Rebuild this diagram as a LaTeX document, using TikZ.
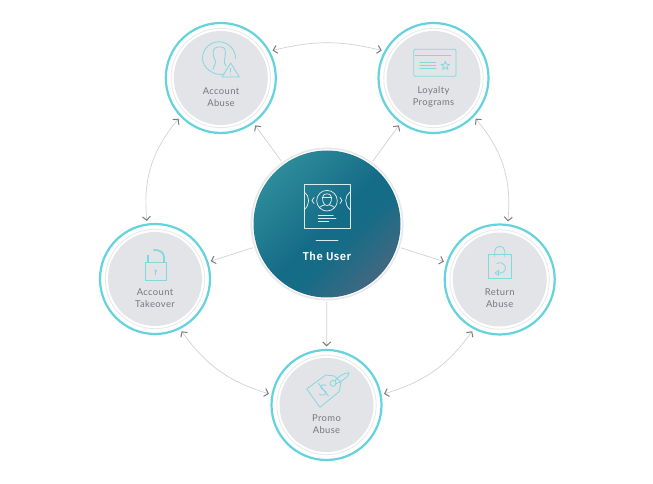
\documentclass[tikz,border=0pt]{standalone}
\usepackage{fontspec}
\setmainfont{Lato}
\newfontfamily\labelfont[LetterSpace=4]{Lato}
\newfontfamily\userfont[LetterSpace=4,UprightFont=* Medium]{Fira Sans}
\usetikzlibrary{arrows.meta,bending}
\definecolor{ringteal}{HTML}{64D3DD}
\definecolor{iconteal}{HTML}{82D8E0}
\definecolor{discgrey}{HTML}{E3E4E8}
\definecolor{thinring}{HTML}{E8E8EB}
\definecolor{textgrey}{HTML}{77777D}
\definecolor{linkgrey}{HTML}{D2D2D5}
\definecolor{tipgrey}{HTML}{7C7C80}
\definecolor{uA}{HTML}{3FA3A9}
\definecolor{uB}{HTML}{156C87}
\definecolor{uC}{HTML}{75637A}
\pgfdeclareverticalshading{usergrad}{100bp}{color(0bp)=(uC); color(5bp)=(uC); color(42bp)=(uB); color(50bp)=(uB); color(94bp)=(uA); color(100bp)=(uA)}
\tikzset{
  x=1pt,y=1pt,
  hub/.style={circle,minimum size=156pt,inner sep=0pt,outer sep=0pt},
  spoke/.style={circle,minimum size=117.2pt,inner sep=0pt,outer sep=0pt},
  outerring/.style={draw=ringteal,line width=2.2pt},
  innerring/.style={draw=thinring,line width=.8pt},
  disc/.style={fill=discgrey},
  link/.style={draw=linkgrey,line width=.7pt,
    {Straight Barb[color=tipgrey,length=3.8pt,width=8pt,line width=1pt]}-{Straight Barb[color=tipgrey,length=3.8pt,width=8pt,line width=1pt]}},
  spokelink/.style={draw=linkgrey,line width=.7pt,
    -{Straight Barb[color=tipgrey,length=3.8pt,width=8pt,line width=1pt]}},
  caption/.style={font=\labelfont\fontsize{9.4pt}{11.7pt}\selectfont,text=textgrey,align=center,inner sep=0pt},
  icon/.style={draw=iconteal,line width=.8pt,line join=round,line cap=round},
  usericon/.style={draw=white,draw opacity=.85,line width=.75pt,line join=round,line cap=round},
}
\begin{document}
\begin{tikzpicture}
\useasboundingbox (0,0) rectangle (653,484);
\fill[white] (0,0) rectangle (653,484);
\node[hub] (user) at (327,260) {};
\node[spoke] (aa) at (220.8,406) {};
\node[spoke] (lp) at (433.5,406) {};
\node[spoke] (at) at (155,205) {};
\node[spoke] (ra) at (499.7,204.5) {};
\node[spoke] (pa) at (326.5,79) {};
% connectors
\draw[spokelink] (user) -- (aa);
\draw[spokelink] (user) -- (lp);
\draw[spokelink] (user) -- (at);
\draw[spokelink] (user) -- (ra);
\draw[spokelink] (user) -- (pa);
\draw[link] (aa.28) to[bend left=14] (lp.152);
\draw[link] (aa.224) to[bend right=23] (at.98);
\draw[link] (lp.316) to[bend left=23] (ra.82);
\draw[link] (at.297) to[bend right=19] (pa.169);
\draw[link] (ra.242) to[bend left=19] (pa.11);
% rings
\foreach \n in {aa,lp,at,ra,pa}{
  \path[disc] (\n) circle (47);
  \path[innerring] (\n) circle (49.7);
  \path[outerring] (\n) circle (55);
}
% hub
\draw[draw=thinring,line width=1.6pt] (user) circle (75.6);
\shade[shading=usergrad,shading angle=45] (user) circle (73.5);
% labels
\node[caption] (aalabel) at (221,386.6) {Account\\Abuse};
\node[caption] (lplabel) at (433.5,387.2) {Loyalty\\Programs};
\node[caption] (atlabel) at (155,186) {Account\\Takeover};
\node[caption] (ralabel) at (499.7,185.8) {Return\\Abuse};
\node[caption] (palabel) at (326.5,60) {Promo\\Abuse};
\node[font=\userfont\fontsize{11.4pt}{13pt}\selectfont,text=white,inner sep=0pt] (userlabel) at (327,227.3) {The User};
% icons, in pixel coordinates of the reference
\begin{scope}[shift={(0,484)},yscale=-1]
  % Account Abuse
  \draw[icon] (224.5,74) .. controls (214,76.5) and (202.5,68) .. (202.5,58.3) .. controls (202.5,49) and (210,41.8) .. (219,41.8) .. controls (228,41.8) and (235.5,49) .. (235.5,58.5);
  \draw[icon] (213,69.5) .. controls (214,65) and (216.5,64) .. (215.5,61) .. controls (213.5,58) and (212.5,53) .. (213.5,50) .. controls (215,46.5) and (221,46) .. (224,48) .. controls (226.5,50) and (225,56) .. (224.5,60) .. controls (224,62) and (224,64) .. (226,66);
  \draw[icon] (230.7,63) -- (239.3,77) -- (222,77) -- cycle;
  \draw[icon] (230.7,68.3) -- (230.7,72);
  \fill[iconteal] (230.7,74.3) circle (.5);
  % Loyalty Programs
  \draw[icon,rounded corners=1.2pt] (413.7,49.3) rectangle (456,76.3);
  \draw[icon] (415,55.3) -- (450.7,55.3);
  \draw[icon] (419.7,62.7) -- (436,62.7) (419.7,65.7) -- (436,65.7) (419.7,68.5) -- (436,68.5);
  \draw[icon] (445.3,61.2) -- (446.4,64.2) -- (449.6,64.3) -- (447.1,66.3) -- (448,69.4) -- (445.3,67.6) -- (442.6,69.4) -- (443.5,66.3) -- (441,64.3) -- (444.2,64.2) -- cycle;
  % Account Takeover
  \draw[icon] (145.3,262.7) rectangle (166,280.7);
  \draw[icon,line width=1.7pt,line cap=butt] (147.7,262.7) -- (147.7,255.5);
  \draw[icon,line width=1.7pt,line cap=butt] (164,262.7) -- (164,257) .. controls (164,252) and (159,249.5) .. (153.3,250);
  \fill[iconteal] (155.7,270.8) circle (1.3);
  \draw[icon,line width=1.3pt,line cap=butt] (155.7,270.8) -- (155.7,275);
  % Return Abuse
  \draw[icon] (488.3,254) rectangle (511,278.7);
  \draw[icon] (494.7,256.5) -- (494.7,251) .. controls (494.7,244.8) and (504.7,244.8) .. (504.7,251) -- (504.7,256.5);
  \draw[icon] (497,263.5) .. controls (500.5,261.2) and (505.5,264) .. (505.5,268) .. controls (505.5,271.5) and (501.5,274) .. (498,273);
  \draw[icon] (495,273.2) -- (498.6,270.3) -- (498.6,275.4) -- cycle;
  % Promo Abuse
  \draw[icon] (306.7,389) -- (325.7,375) -- (334.3,376) -- (341,382.3) -- (339,391.7) -- (320,407.3) -- cycle;
  \draw[icon] (333,383.3) circle (3);
  \draw[icon] (335,380.5) .. controls (339,376) and (345,372.5) .. (349,372.8) .. controls (349.5,375.5) and (342,382) .. (336,383.5);
  \draw[icon] (326,385.5) .. controls (323,383.5) and (320,385.5) .. (321,388) .. controls (322,390.5) and (325.5,389.5) .. (326,392) .. controls (326.5,394.5) and (322.5,396.5) .. (319,394);
  \draw[icon] (318.5,383.5) -- (328.5,396);
  % The User
  \draw[usericon] (304.3,184.3) rectangle (350,228.3);
  \draw[usericon] (327,200.7) circle (10.3);
  \draw[usericon] (304.3,192) .. controls (310,196) and (310,205) .. (304.3,209.5);
  \draw[usericon] (350,192) .. controls (344.3,196) and (344.3,205) .. (350,209.5);
  \draw[usericon] (314,197.5) -- (312,200.5) -- (314,203.5);
  \draw[usericon] (340,197.5) -- (342,200.5) -- (340,203.5);
  \draw[usericon] (322.5,197.5) .. controls (322.5,192.5) and (331.5,192.5) .. (331.5,197.5) .. controls (331.5,203) and (329.5,205.5) .. (327,205.5) .. controls (324.5,205.5) and (322.5,203) .. (322.5,197.5) -- cycle;
  \draw[usericon] (322.5,197.5) -- (331.5,197.5);
  \draw[usericon] (319.5,207.5) .. controls (321,205.5) and (323.5,205.5) .. (324.5,205);
  \draw[usericon] (334.5,207.5) .. controls (333,205.5) and (330.5,205.5) .. (329.5,205);
  \draw[usericon] (318.3,215.3) -- (333.3,215.3) (318.3,218.7) -- (336,218.7) (318.3,221.7) -- (328.7,221.7);
  \draw[usericon] (316,240) -- (338,240);
\end{scope}
\end{tikzpicture}
\end{document}
